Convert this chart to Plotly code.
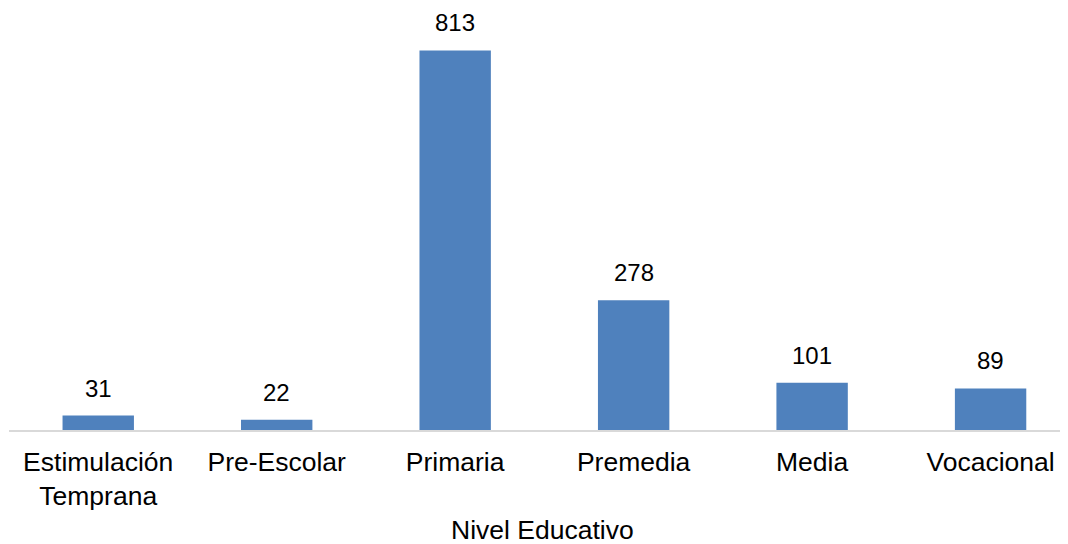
import plotly.graph_objects as go

categories = ["Estimulación<br>Temprana", "Pre-Escolar", "Primaria", "Premedia", "Media", "Vocacional"]
values = [31, 22, 813, 278, 101, 89]
axis_title = "Nivel Educativo"

BAR_COLOR = "#4F81BD"
FONT = "Liberation Sans, Arial, sans-serif"

fig = go.Figure()
fig.add_trace(go.Bar(
    x=categories,
    y=values,
    marker=dict(color=BAR_COLOR, line=dict(width=0)),
    hoverinfo="skip",
))

for c, v in zip(categories, values):
    fig.add_annotation(
        x=c, y=v, xref="x", yref="y",
        text=str(v), showarrow=False,
        yanchor="bottom", yshift=12,
        font=dict(family=FONT, size=24, color="#000000"),
    )

fig.add_annotation(
    x=0.5, y=0, xref="paper", yref="paper",
    text=axis_title, showarrow=False,
    yanchor="top", yshift=-83,
    font=dict(family=FONT, size=26.5, color="#000000"),
)

fig.update_layout(
    width=1067, height=536,
    margin=dict(l=1, r=0, t=0, b=113.5),
    paper_bgcolor="white", plot_bgcolor="white",
    bargap=0.6,
    showlegend=False,
    font=dict(family=FONT, color="#000000"),
    xaxis=dict(
        range=[-0.5, 5.473],
        showline=True, linecolor="#D9D9D9", linewidth=2,
        showgrid=False, zeroline=False, ticks="",
        ticklabelstandoff=7,
        tickfont=dict(family=FONT, size=26.5, color="#000000"),
        fixedrange=True,
    ),
    yaxis=dict(
        range=[0, 904],
        visible=False, showgrid=False, zeroline=False,
        fixedrange=True,
    ),
)

fig.write_html("out.html")
